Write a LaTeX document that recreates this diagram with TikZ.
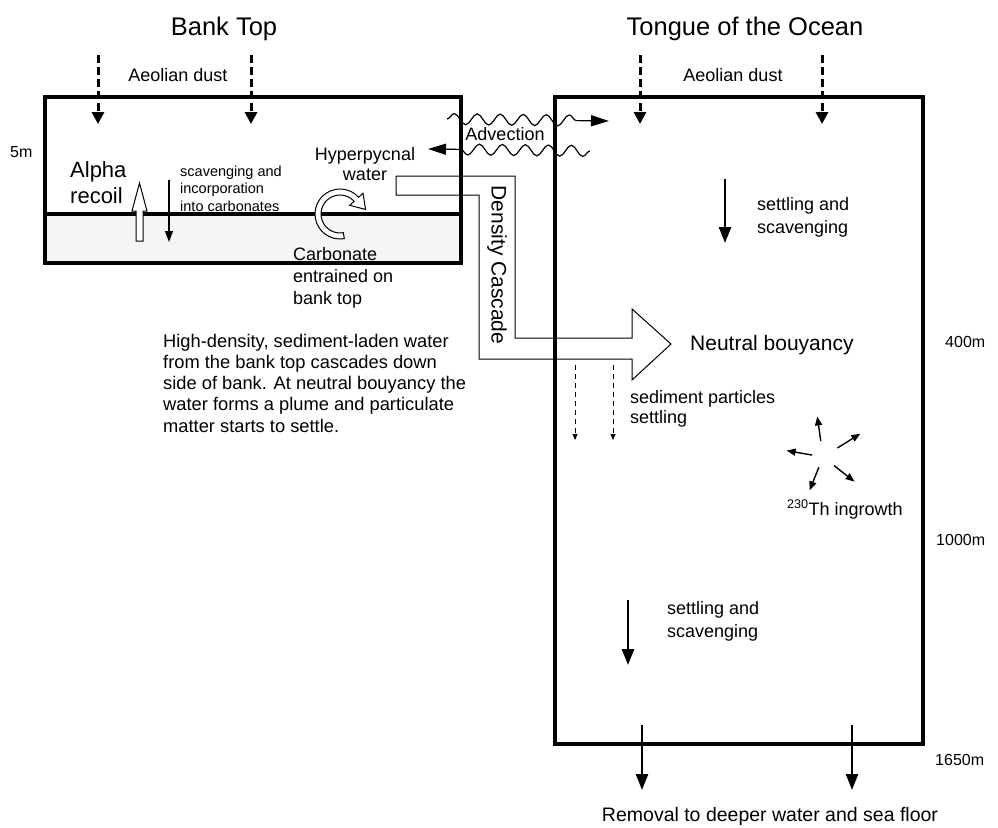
\documentclass[tikz,border=0pt]{standalone}
\usepackage{fontspec}
\setmainfont{Liberation Sans}
\usetikzlibrary{arrows.meta,decorations.pathmorphing}

\begin{document}
\begin{tikzpicture}[x=1pt, y=-1pt,
        box/.style={line width=3.5pt},
        txt/.style={font=\fontsize{18}{21.5}\selectfont, inner sep=0pt, align=left},
        title/.style={font=\fontsize{25.5}{30}\selectfont, inner sep=0pt},
        small/.style={font=\fontsize{14.5}{17.5}\selectfont, inner sep=0pt, align=left},
        depthlab/.style={font=\fontsize{16}{19}\selectfont, inner sep=0pt, anchor=base west},
        dust/.style={-{Triangle[length=12pt,width=12pt]}, line width=3pt, dash pattern=on 8pt off 4pt},
        sink/.style={-{Triangle[length=16pt,width=12pt]}, line width=2.5pt},
        fine/.style={-{Triangle[length=9pt,width=7pt]}, line width=1.4pt},
        drift/.style={-{Triangle[length=6pt,width=5pt]}, line width=0.9pt, dash pattern=on 5pt off 4pt},
        hollow/.style={draw, line width=1pt, fill=white, line join=miter},
        wave/.style={decorate, decoration={snake, segment length=23pt, amplitude=5.5pt, post length=22pt},
            line width=1.2pt, -{Triangle[length=18pt,width=11pt]}}
    ]
        \useasboundingbox (0,0) rectangle (998,827);

        % Bank top box
        \fill[black!4] (45,214) rectangle (461,263);
        \draw[box] (45,97) rectangle (461,263);
        \draw[box] (45,214) -- (461,214);
        \node[title, anchor=base] (banktitle) at (224,35) {Bank Top};
        \node[depthlab] (d5) at (10,157) {5m};

        % Tongue of the Ocean box
        \draw[box] (555,97) rectangle (923,744);
        \node[title, anchor=base] (tottitle) at (745,35) {Tongue of the Ocean};
        \node[depthlab] (d400) at (945,347) {400m};
        \node[depthlab] (d1000) at (936,545) {1000m};
        \node[depthlab] (d1650) at (935,765) {1650m};

        % Aeolian dust
        \node[txt, anchor=base] (dustL) at (178,81) {Aeolian dust};
        \node[txt, anchor=base] (dustR) at (733,81) {Aeolian dust};
        \foreach \x [count=\i] in {98,251,640,822} {
            \coordinate (sky\i) at (\x,55);
            \coordinate (fall\i) at (\x,124);
            \draw[dust] (sky\i) -- (fall\i);
        }

        % Alpha recoil and scavenging on the bank
        \node[txt, font=\fontsize{22}{26}\selectfont, anchor=base west] (alpha) at (70,203) {Alpha\\recoil};
        \draw[hollow] (136,241) -- (136,211) -- (132,211) -- (139.5,183) -- (147,211) -- (143,211) -- (143,241) -- cycle;
        \coordinate (scav1) at (169,180);
        \coordinate (scav2) at (169,242);
        \draw[-{Triangle[length=11pt,width=8pt]}, line width=1.1pt] (scav1) -- (scav2);
        \node[small, anchor=base west] (scav) at (180,211) {scavenging and\\incorporation\\into carbonates};

        % Hyperpycnal water and entrainment
        \node[txt, align=center, anchor=base, font=\fontsize{18}{20}\selectfont] (hyper) at (365,180) {Hyperpycnal\\water};
        \draw[hollow, shift={(340,214)}] (80:25) arc[start angle=80, end angle=318, radius=25]
            -- (318:31) -- (350:26) -- (318:13) -- (318:19)
            arc[start angle=318, end angle=80, radius=19] -- cycle;
        \node[txt, anchor=base west, font=\fontsize{18}{22}\selectfont] (carb) at (293,304) {Carbonate\\entrained on\\bank top};

        % Advection
        \node[txt] (adv) at (505,134) {Advection};
        \coordinate (advA) at (447,119);
        \coordinate (advB) at (609,121);
        \coordinate (advC) at (590,151);
        \coordinate (advD) at (428,149);
        \draw[wave] (advA) -- (advB);
        \draw[wave] (advC) -- (advD);

        % Density cascade
        \draw[line width=1pt, line join=miter] (396,176) -- (515,176) -- (515,338) -- (632,338) -- (632,309)
            -- (671,344) -- (632,380) -- (632,359) -- (479,359) -- (479,195) -- (396,195) -- cycle;
        \node[txt, font=\fontsize{21}{25}\selectfont, rotate=-90] (cascade) at (497,265) {Density Cascade};
        \node[txt, font=\fontsize{21}{24}\selectfont, anchor=base west] (neutral) at (690,350) {Neutral bouyancy};
        \node[txt, font=\fontsize{18.3}{21.25}\selectfont, anchor=base west] (story) at (163,432) {High-density, sediment-laden water\\from the bank top cascades down\\side of bank. At neutral bouyancy the\\water forms a plume and particulate\\matter starts to settle.};

        % Settling in the ocean
        \node[txt, font=\fontsize{18}{20}\selectfont, anchor=base west] (sedi) at (630,423) {sediment particles\\settling};
        \foreach \x [count=\i] in {575,613} {
            \coordinate (plume\i) at (\x,365);
            \coordinate (drop\i) at (\x,440);
            \draw[drift] (plume\i) -- (drop\i);
        }
        \coordinate (setA) at (725,179);
        \coordinate (setB) at (725,243);
        \draw[sink] (setA) -- (setB);
        \node[txt, anchor=base west, font=\fontsize{18}{23}\selectfont] (settle1) at (757,233) {settling and\\scavenging};
        \coordinate (setC) at (628,600);
        \coordinate (setD) at (628,665);
        \draw[sink] (setC) -- (setD);
        \node[txt, anchor=base west, font=\fontsize{18}{23}\selectfont] (settle2) at (667,637) {settling and\\scavenging};

        % Th ingrowth
        \coordinate (th) at (823,457);
        \foreach \a/\r/\R in {262/16/41, 328/17/44, 190/11/37, 112/11/36, 38/14/40}
            \draw[fine, shift={(th)}] (\a:\r) -- (\a:\R);
        \node[txt, anchor=base west] (ingrowth) at (787,515) {\textsuperscript{230}Th ingrowth};

        % Removal
        \foreach \x [count=\i] in {642,852} {
            \coordinate (floorA\i) at (\x,725);
            \coordinate (floorB\i) at (\x,790);
            \draw[sink] (floorA\i) -- (floorB\i);
        }
        \node[txt, font=\fontsize{19.5}{23}\selectfont, anchor=base] (removal) at (770,821) {Removal to deeper water and sea floor};
    \end{tikzpicture}
\end{document}
